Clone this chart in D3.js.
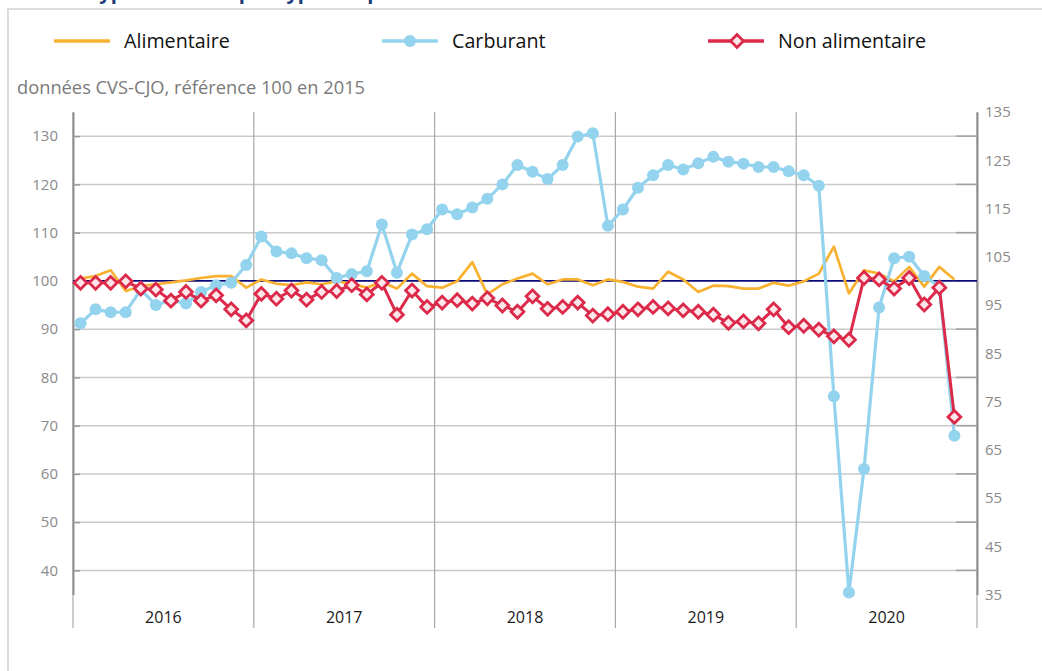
<!DOCTYPE html>
<html>
<head>
<meta charset="utf-8">
<script src="https://cdn.jsdelivr.net/npm/d3@7"></script>
<style>
  body { margin: 0; background: #fff; }
  svg { display: block; font-family: "Open Sans", "Noto Sans", sans-serif; }
</style>
</head>
<body>
<div id="chart"></div>
<script>
// monthly indices, Jan 2016 -> Nov 2020
var years = ["2016", "2017", "2018", "2019", "2020"];
var leftTicks = [40, 50, 60, 70, 80, 90, 100, 110, 120, 130];
var rightTicks = [35, 45, 55, 65, 75, 85, 95, 105, 115, 125, 135];

var alimentaire = [
  100.5, 101.0, 102.2, 97.9, 98.9, 99.3, 99.7, 100.1, 100.6, 101.0, 101.0, 98.6,
  100.3, 99.4, 99.1, 99.7, 99.3, 99.9, 99.4, 98.6, 99.7, 98.4, 101.5, 98.9,
  98.6, 99.9, 103.9, 97.2, 99.3, 100.5, 101.5, 99.3, 100.3, 100.3, 99.1, 100.3,
  99.8, 98.8, 98.4, 101.9, 100.3, 97.7, 99.0, 98.9, 98.4, 98.4, 99.6, 99.0,
  99.9, 101.5, 107.1, 97.4, 102.2, 101.5, 99.9, 102.9, 98.8, 102.9, 100.3
];
var carburant = [
  91.2, 94.1, 93.5, 93.5, 98.2, 95.0, 96.0, 95.3, 97.7, 99.1, 99.6, 103.3,
  109.2, 106.1, 105.7, 104.7, 104.3, 100.6, 101.4, 102.0, 111.7, 101.7, 109.6, 110.7,
  114.8, 113.8, 115.2, 117.0, 120.0, 124.0, 122.6, 121.1, 124.0, 129.9, 130.6, 111.4,
  114.8, 119.3, 121.9, 124.0, 123.1, 124.4, 125.7, 124.7, 124.3, 123.6, 123.6, 122.7,
  121.9, 119.7, 76.1, 35.4, 61.0, 94.5, 104.7, 105.0, 101.0, 98.8, 67.9
];
var nonAlimentaire = [
  99.6, 99.6, 99.6, 99.9, 98.4, 98.2, 95.9, 97.7, 95.9, 97.0, 94.1, 91.8,
  97.3, 96.3, 98.0, 96.1, 97.7, 97.9, 99.1, 97.2, 99.6, 93.0, 98.0, 94.6,
  95.5, 96.0, 95.3, 96.4, 94.9, 93.6, 96.8, 94.2, 94.6, 95.5, 92.8, 93.1,
  93.6, 94.1, 94.6, 94.3, 93.9, 93.6, 93.0, 91.3, 91.6, 91.2, 94.1, 90.4,
  90.7, 89.9, 88.5, 87.8, 100.6, 100.3, 98.4, 100.6, 95.1, 98.6, 71.8
];

var colAlim = "#f8b130", colCarb = "#93d3ee", colNon = "#dc2a4b";

var W = 1042, H = 671;
var plotLeft = 73, plotRight = 977, plotTop = 112, plotBottom = 594.5, bandBottom = 628;

var svg = d3.select("#chart").append("svg")
  .attr("width", W).attr("height", H);

// frame + cut title
svg.append("rect")
  .attr("x", 8).attr("y", 9).attr("width", 1060).attr("height", 700)
  .attr("fill", "none").attr("stroke", "#dedede").attr("stroke-width", 2);
svg.append("text")
  .attr("x", 17).attr("y", -1)
  .attr("font-size", 20).attr("font-weight", "bold").attr("fill", "#1d3c78")
  .text("Ventes types de biens par types de produits");

// scales
var x = d3.scaleLinear().domain([0, years.length * 12]).range([plotLeft, plotRight]);
var y = d3.scaleLinear().domain([35, 135]).range([plotBottom, plotTop]);

// horizontal grid
var grid = leftTicks.filter(function(d) { return d != 100; });
svg.append("g").selectAll("line")
  .data(grid)
  .enter().append("line")
  .attr("x1", plotLeft).attr("x2", plotRight)
  .attr("y1", function(d) { return y(d); }).attr("y2", function(d) { return y(d); })
  .attr("stroke", "#cacaca").attr("stroke-width", 1.5);

// year separators
svg.append("g").selectAll("line")
  .data(d3.range(years.length + 1))
  .enter().append("line")
  .attr("x1", function(d) { return x(d * 12); }).attr("x2", function(d) { return x(d * 12); })
  .attr("y1", plotTop).attr("y2", bandBottom)
  .attr("stroke", "#a8a8a8").attr("stroke-width", 1.2);

// left axis (short inner ticks)
var yAxisL = d3.axisLeft(y).tickValues(leftTicks).tickSizeInner(-7).tickSizeOuter(0).tickPadding(15);
var gl = svg.append("g").attr("transform", "translate(" + plotLeft + ",0)").call(yAxisL);
gl.select(".domain").attr("stroke", "#8e8e8e").attr("stroke-width", 2);
gl.selectAll(".tick line").attr("stroke", "#9a9a9a").attr("stroke-width", 1.5);
gl.selectAll("text").attr("font-size", 15).attr("fill", "#8a8a8a")
  .attr("font-family", "Open Sans, sans-serif");

// right axis labels, darker grid ends
var yAxisR = d3.axisRight(y).tickValues(rightTicks).tickSize(0).tickPadding(8);
var gr = svg.append("g").attr("transform", "translate(" + plotRight + ",0)").call(yAxisR);
gr.select(".domain").attr("stroke", "#8e8e8e").attr("stroke-width", 2);
gr.selectAll("text").attr("font-size", 15).attr("fill", "#8a8a8a")
  .attr("font-family", "Open Sans, sans-serif");
svg.append("g").selectAll("line")
  .data(grid)
  .enter().append("line")
  .attr("x1", plotRight - 21).attr("x2", plotRight)
  .attr("y1", function(d) { return y(d); }).attr("y2", function(d) { return y(d); })
  .attr("stroke", "#a0a0a0").attr("stroke-width", 1.5);

// year labels
svg.append("g").selectAll("text")
  .data(years)
  .enter().append("text")
  .attr("x", function(d, i) { return x(i * 12 + 6); })
  .attr("y", 623)
  .attr("text-anchor", "middle")
  .attr("font-size", 16).attr("fill", "#1a1a1a")
  .text(function(d) { return d; });

// reference line at 100
svg.append("line")
  .attr("x1", plotLeft).attr("x2", plotRight)
  .attr("y1", y(100)).attr("y2", y(100))
  .attr("stroke", "#0a0a7a").attr("stroke-width", 1.6);

function xm(d, i) { return x(i + 0.5); }
var line = d3.line().x(xm).y(function(d) { return y(d); });

// Alimentaire
svg.append("path").datum(alimentaire)
  .attr("d", line).attr("fill", "none")
  .attr("stroke", colAlim).attr("stroke-width", 2.7).attr("stroke-linejoin", "round");

// Carburant
svg.append("path").datum(carburant)
  .attr("d", line).attr("fill", "none")
  .attr("stroke", colCarb).attr("stroke-width", 3.2).attr("stroke-linejoin", "round");
svg.append("g").selectAll("circle")
  .data(carburant)
  .enter().append("circle")
  .attr("cx", xm).attr("cy", function(d) { return y(d); })
  .attr("r", 6).attr("fill", colCarb);

// Non alimentaire
var diamond = d3.symbol().type(d3.symbolDiamond2).size(105);
svg.append("path").datum(nonAlimentaire)
  .attr("d", line).attr("fill", "none")
  .attr("stroke", colNon).attr("stroke-width", 3).attr("stroke-linejoin", "round");
svg.append("g").selectAll("path")
  .data(nonAlimentaire)
  .enter().append("path")
  .attr("d", diamond)
  .attr("transform", function(d, i) { return "translate(" + xm(d, i) + "," + y(d) + ")"; })
  .attr("fill", "#fde6ea").attr("stroke", colNon).attr("stroke-width", 2.8);

// legend
var legend = [
  {name: "Alimentaire", color: colAlim, x: 54, mark: "none"},
  {name: "Carburant", color: colCarb, x: 382, mark: "circle"},
  {name: "Non alimentaire", color: colNon, x: 708, mark: "diamond"}
];
var lg = svg.append("g").selectAll("g").data(legend).enter().append("g")
  .attr("transform", function(d) { return "translate(" + d.x + ",41)"; });
lg.append("line").attr("x1", 0).attr("x2", 56)
  .attr("stroke", function(d) { return d.color; }).attr("stroke-width", 3.5);
lg.filter(function(d) { return d.mark == "circle"; }).append("circle")
  .attr("cx", 28).attr("r", 6).attr("fill", colCarb);
lg.filter(function(d) { return d.mark == "diamond"; }).append("path")
  .attr("d", diamond).attr("transform", "translate(29,0)")
  .attr("fill", "#fde6ea").attr("stroke", colNon).attr("stroke-width", 2.8);
lg.append("text").attr("x", 70).attr("y", 7)
  .attr("font-size", 19.7).attr("fill", "#111")
  .text(function(d) { return d.name; });

// subtitle
svg.append("text")
  .attr("x", 17).attr("y", 94)
  .attr("font-size", 18.3).attr("fill", "#7a7a7a")
  .text("données CVS-CJO, référence 100 en 2015");
</script>
</body>
</html>
